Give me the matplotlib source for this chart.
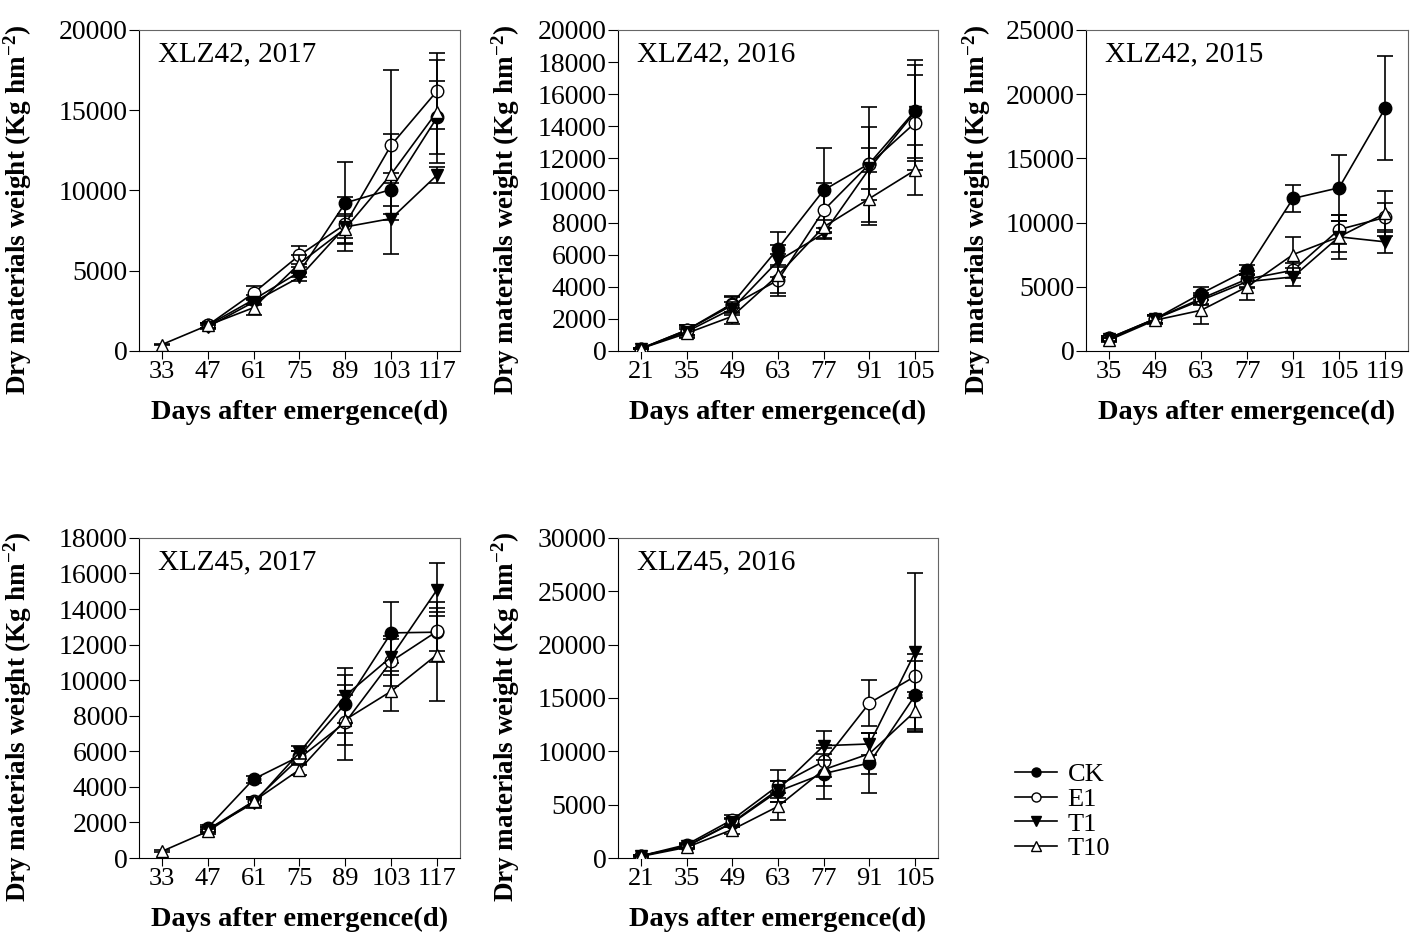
import numpy as np
import matplotlib
matplotlib.use("Agg")
import matplotlib.pyplot as plt
from matplotlib.lines import Line2D

plt.rcParams["font.family"] = ["Liberation Serif", "DejaVu Serif"]
plt.rcParams["mathtext.fontset"] = "custom"
plt.rcParams["mathtext.rm"] = "Liberation Serif"
plt.rcParams["mathtext.bf"] = "Liberation Serif:bold"
nan = np.nan

# XLZ42, 2017
days_a = [33, 47, 61, 75, 89, 103, 117]
ck_42_17 = [nan, 1600, 3200, 4930, 9230, 10060, 14550]
e1_42_17 = [nan, 1600, 3620, 5970, 7900, 12830, 16200]
t1_42_17 = [nan, 1500, 3050, 4600, 7730, 8250, 10960]
t10_42_17 = [400, 1600, 2700, 5450, 7630, 11020, 14910]
ck_42_17_err = [nan, 150, 300, 300, 2550, 1000, 2250]
e1_42_17_err = [nan, 150, 400, 550, 1700, 4700, 2350]
t1_42_17_err = [nan, 150, 200, 250, 700, 2200, 500]
t10_42_17_err = [50, 150, 450, 500, 900, 2500, 3200]

# XLZ42, 2016
days_b = [21, 35, 49, 63, 77, 91, 105]
ck_42_16 = [150, 1300, 2950, 6380, 10020, 11680, 14970]
e1_42_16 = [150, 1300, 2850, 4410, 8770, 11640, 14220]
t1_42_16 = [150, 1200, 2640, 5610, 7320, 11370, 14900]
t10_42_16 = [150, 1100, 2160, 4720, 7730, 9500, 11270]
ck_42_16_err = [50, 300, 500, 1050, 2600, 2300, 3150]
e1_42_16_err = [50, 300, 500, 800, 1700, 3580, 2950]
t1_42_16_err = [50, 300, 400, 1000, 350, 1250, 2900]
t10_42_16_err = [50, 300, 500, 1300, 400, 1660, 1550]

# XLZ42, 2015
days_c = [35, 49, 63, 77, 91, 105, 119]
ck_42_15 = [1000, 2500, 4470, 6300, 11880, 12710, 18890]
e1_42_15 = [1000, 2500, 4080, 5600, 6290, 9460, 10400]
t1_42_15 = [900, 2500, 3950, 5400, 5770, 8890, 8500]
t10_42_15 = [850, 2400, 3170, 5000, 7510, 8890, 10710]
ck_42_15_err = [150, 300, 500, 400, 1050, 2550, 4050]
e1_42_15_err = [150, 300, 400, 600, 600, 1100, 1100]
t1_42_15_err = [150, 300, 400, 500, 700, 1200, 900]
t10_42_15_err = [150, 300, 1100, 1000, 1400, 1700, 1750]

# XLZ45, 2017
ck_45_17 = [nan, 1700, 4440, 5720, 8680, 12660, 12700]
e1_45_17 = [nan, 1600, 3190, 5620, 7630, 11060, 12750]
t1_45_17 = [nan, 1600, 3090, 5940, 9130, 11310, 15090]
t10_45_17 = [375, 1500, 3190, 4970, 7780, 9380, 11440]
ck_45_17_err = [nan, 150, 200, 300, 1630, 1720, 1700]
e1_45_17_err = [nan, 150, 250, 400, 2100, 1400, 1100]
t1_45_17_err = [nan, 150, 250, 350, 1560, 1000, 1500]
t10_45_17_err = [50, 150, 250, 300, 1400, 1130, 2600]

# XLZ45, 2016
ck_45_16 = [200, 1100, 3280, 6250, 7910, 8910, 15250]
e1_45_16 = [200, 1250, 3590, 6780, 9060, 14530, 17030]
t1_45_16 = [200, 1100, 3340, 6410, 10530, 10690, 19280]
t10_45_16 = [150, 1000, 2660, 4840, 8280, 9780, 13750]
ck_45_16_err = [50, 200, 400, 1000, 2400, 2800, 3200]
e1_45_16_err = [50, 200, 400, 1500, 1500, 2130, 2050]
t1_45_16_err = [50, 200, 400, 800, 1350, 1000, 7440]
t10_45_16_err = [50, 200, 400, 1250, 1500, 1900, 1800]

treatments = ["CK", "E1", "T1", "T10"]
markers = {"CK": ("o", "black"), "E1": ("o", "white"), "T1": ("v", "black"), "T10": ("^", "white")}

# titulo, dias, series, erros, ymax, passo, posicao, x do ylabel
paineis = [
    ("XLZ42, 2017", days_a, [ck_42_17, e1_42_17, t1_42_17, t10_42_17],
     [ck_42_17_err, e1_42_17_err, t1_42_17_err, t10_42_17_err], 20000, 5000,
     [0.098, 0.625, 0.2264, 0.343], -0.327),
    ("XLZ42, 2016", days_b, [ck_42_16, e1_42_16, t1_42_16, t10_42_16],
     [ck_42_16_err, e1_42_16_err, t1_42_16_err, t10_42_16_err], 20000, 2000,
     [0.4358, 0.625, 0.2257, 0.343], -0.30),
    ("XLZ42, 2015", days_c, [ck_42_15, e1_42_15, t1_42_15, t10_42_15],
     [ck_42_15_err, e1_42_15_err, t1_42_15_err, t10_42_15_err], 25000, 5000,
     [0.7659, 0.625, 0.2271, 0.343], -0.288),
    ("XLZ45, 2017", days_a, [ck_45_17, e1_45_17, t1_45_17, t10_45_17],
     [ck_45_17_err, e1_45_17_err, t1_45_17_err, t10_45_17_err], 18000, 2000,
     [0.098, 0.0833, 0.2264, 0.342], -0.327),
    ("XLZ45, 2016", days_b, [ck_45_16, e1_45_16, t1_45_16, t10_45_16],
     [ck_45_16_err, e1_45_16_err, t1_45_16_err, t10_45_16_err], 30000, 5000,
     [0.4358, 0.0833, 0.2257, 0.342], -0.30),
]

fig = plt.figure(figsize=(14.18, 9.36), dpi=100)

for titulo, dias, series, erros, ymax, passo, pos, ylx in paineis:
    ax = fig.add_axes(pos)
    for i, (nome, vals, err) in enumerate(zip(treatments, series, erros)):
        m, fc = markers[nome]
        ax.errorbar(dias, vals, yerr=err, color="black", lw=1.2, elinewidth=1.2,
                    capsize=6, capthick=1.2, marker=m, markersize=9,
                    markerfacecolor=fc, markeredgecolor="black", zorder=2 + i)
    ax.set_xlim(dias[0] - 7, dias[-1] + 7)
    ax.set_ylim(0, ymax)
    ax.set_xticks(dias)
    ax.set_yticks(np.arange(0, ymax + 1, passo))
    ax.tick_params(axis="x", direction="out", length=6, labelsize=19, pad=1)
    ax.tick_params(axis="y", direction="out", length=7, labelsize=20, pad=1)
    for s in ["top", "right"]:
        ax.spines[s].set_color("#666666")
    ax.text(0.06, 0.965, titulo, transform=ax.transAxes, fontsize=21, va="top")
    ax.set_xlabel("Days after emergence(d)", fontsize=20.5, fontweight="bold", labelpad=12)
    ax.set_ylabel(r"Dry materials weight (Kg hm$\mathbf{^{-2}}$)", fontsize=19.5,
                  fontweight="bold")
    ax.yaxis.set_label_coords(ylx, 0.44)

handles = []
for nome in treatments:
    m, fc = markers[nome]
    handles.append(Line2D([], [], color="black", lw=1.2, marker=m, markersize=6.5,
                          markerfacecolor=fc, markeredgecolor="black"))
fig.legend(handles, treatments, loc="upper left", bbox_to_anchor=(0.712, 0.191),
           frameon=False, fontsize=19, handlelength=1.6, labelspacing=0.05,
           handletextpad=0.4, borderpad=0.2, borderaxespad=0)

fig.savefig("out.png", dpi=100)
